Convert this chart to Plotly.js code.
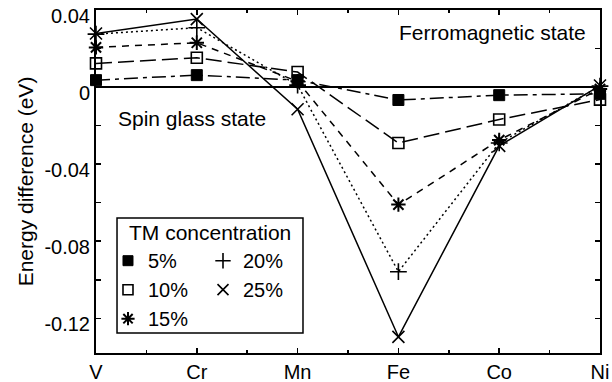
<!DOCTYPE html>
<html>
<head>
<meta charset="utf-8">
<script src="https://cdn.plot.ly/plotly-3.0.1.min.js"></script>
<style>
  html, body { margin: 0; padding: 0; background: #fff; }
  #chart { width: 612px; height: 382px; }
</style>
</head>
<body>
<div id="chart"></div>
<script>
// Transition metals on the x axis
const elements = ['V', 'Cr', 'Mn', 'Fe', 'Co', 'Ni'];
const xPos = [0, 1, 2, 3, 4, 5];

// Energy difference (eV) for each TM concentration
const conc5  = [0.0036, 0.0062, 0.0036, -0.0067, -0.0042, -0.0035];
const conc10 = [0.0123, 0.0152, 0.0078, -0.0290, -0.0168, -0.0065];
const conc15 = [0.0206, 0.0230, 0.0030, -0.0610, -0.0275, -0.0010];
const conc20 = [0.0275, 0.0308, 0.0010, -0.0958, -0.0290, 0.0005];
const conc25 = [0.0278, 0.0353, -0.0115, -0.1296, -0.0305, 0.0008];

const yTickVals = [0.04, 0, -0.04, -0.08, -0.12];
const yTickText = ['0.04', '0', '-0.04', '-0.08', '-0.12'];

const FONT = 'Liberation Sans, Arial, Helvetica, sans-serif';
const K = '#000';

const series = [
  { name: '5%',  y: conc5,  dash: '14px,5px,4px,5px', symbol: 'square',          size: 11, lw: 1 },
  { name: '10%', y: conc10, dash: '16px,6px',          symbol: 'square-open',     size: 11, lw: 1.6 },
  { name: '15%', y: conc15, dash: '7px,6px',           symbol: 'asterisk-open',   size: 12, lw: 2 },
  { name: '20%', y: conc20, dash: '2px,3px',           symbol: 'cross-thin-open', size: 12, lw: 1.6 },
  { name: '25%', y: conc25, dash: 'solid',             symbol: 'x-thin-open',     size: 12, lw: 1.6 }
];

const traces = [];
series.forEach(s => {
  traces.push({
    x: xPos, y: s.y, type: 'scatter', mode: 'lines+markers',
    name: s.name, showlegend: false, cliponaxis: false,
    line: { color: K, width: 1.5, dash: s.dash },
    marker: { symbol: s.symbol, size: s.size, color: K, line: { color: K, width: s.lw } }
  });
});

// Legend-only entries: left column 5/10/15 %, right column 20/25 %
series.forEach((s, i) => {
  traces.push({
    x: [null], y: [null], type: 'scatter', mode: 'markers',
    name: s.name, showlegend: true,
    legend: i < 3 ? 'legend' : 'legend2',
    marker: { symbol: s.symbol, size: s.size - 1, color: K, line: { color: K, width: s.lw } }
  });
});

const legendCommon = {
  orientation: 'v', yanchor: 'top', xanchor: 'left',
  bgcolor: 'rgba(0,0,0,0)', borderwidth: 0,
  font: { family: FONT, size: 20, color: K },
  tracegroupgap: 0, itemclick: false
};

const layout = {
  width: 612, height: 382,
  margin: { l: 96, r: 12, t: 10, b: 29 },
  paper_bgcolor: '#fff', plot_bgcolor: '#fff',
  font: { family: FONT, size: 20, color: K },
  showlegend: true,
  xaxis: {
    range: [0, 5], tickvals: xPos, ticktext: elements,
    ticks: 'inside', ticklen: 5, tickwidth: 1.5, tickcolor: K,
    minor: { dtick: 0.5, tick0: 0, ticks: 'inside', ticklen: 3, tickwidth: 1.5, tickcolor: K },
    showline: true, linewidth: 2, linecolor: K, mirror: 'ticks',
    showgrid: false, zeroline: false,
    tickfont: { family: FONT, size: 20, color: K }
  },
  yaxis: {
    range: [-0.138, 0.04], tickvals: yTickVals, ticktext: yTickText,
    ticks: 'inside', ticklen: 5, tickwidth: 1.5, tickcolor: K,
    ticklabelshift: 6,
    minor: { dtick: 0.02, tick0: 0, ticks: 'inside', ticklen: 5, tickwidth: 1.5, tickcolor: K },
    showline: true, linewidth: 2, linecolor: K, mirror: 'ticks',
    showgrid: false, zeroline: true, zerolinecolor: K, zerolinewidth: 2,
    tickfont: { family: FONT, size: 20, color: K },
    title: { text: 'Energy difference (eV)', font: { family: FONT, size: 21, color: K }, standoff: 5 }
  },
  legend:  Object.assign({}, legendCommon, { x: 0.0238, y: 0.326 }),
  legend2: Object.assign({}, legendCommon, { x: 0.2123, y: 0.326 }),
  shapes: [{
    type: 'rect', xref: 'paper', yref: 'paper',
    x0: 0.0417, x1: 0.4107, y0: 0.0583, y1: 0.3936,
    line: { color: K, width: 1.5 }, fillcolor: '#fff', layer: 'above'
  }],
  annotations: [
    { text: 'Ferromagnetic state', xref: 'paper', yref: 'paper', x: 0.976, y: 0.933,
      xanchor: 'right', yanchor: 'middle', showarrow: false,
      font: { family: FONT, size: 21, color: K } },
    { text: 'Spin glass state', xref: 'paper', yref: 'paper', x: 0.0397, y: 0.685,
      xanchor: 'left', yanchor: 'middle', showarrow: false,
      font: { family: FONT, size: 21, color: K } },
    { text: 'TM concentration', xref: 'paper', yref: 'paper', x: 0.061, y: 0.35,
      xanchor: 'left', yanchor: 'middle', showarrow: false,
      font: { family: FONT, size: 21, color: K } }
  ]
};

Plotly.newPlot('chart', traces, layout, { staticPlot: true, displayModeBar: false });
</script>
</body>
</html>
